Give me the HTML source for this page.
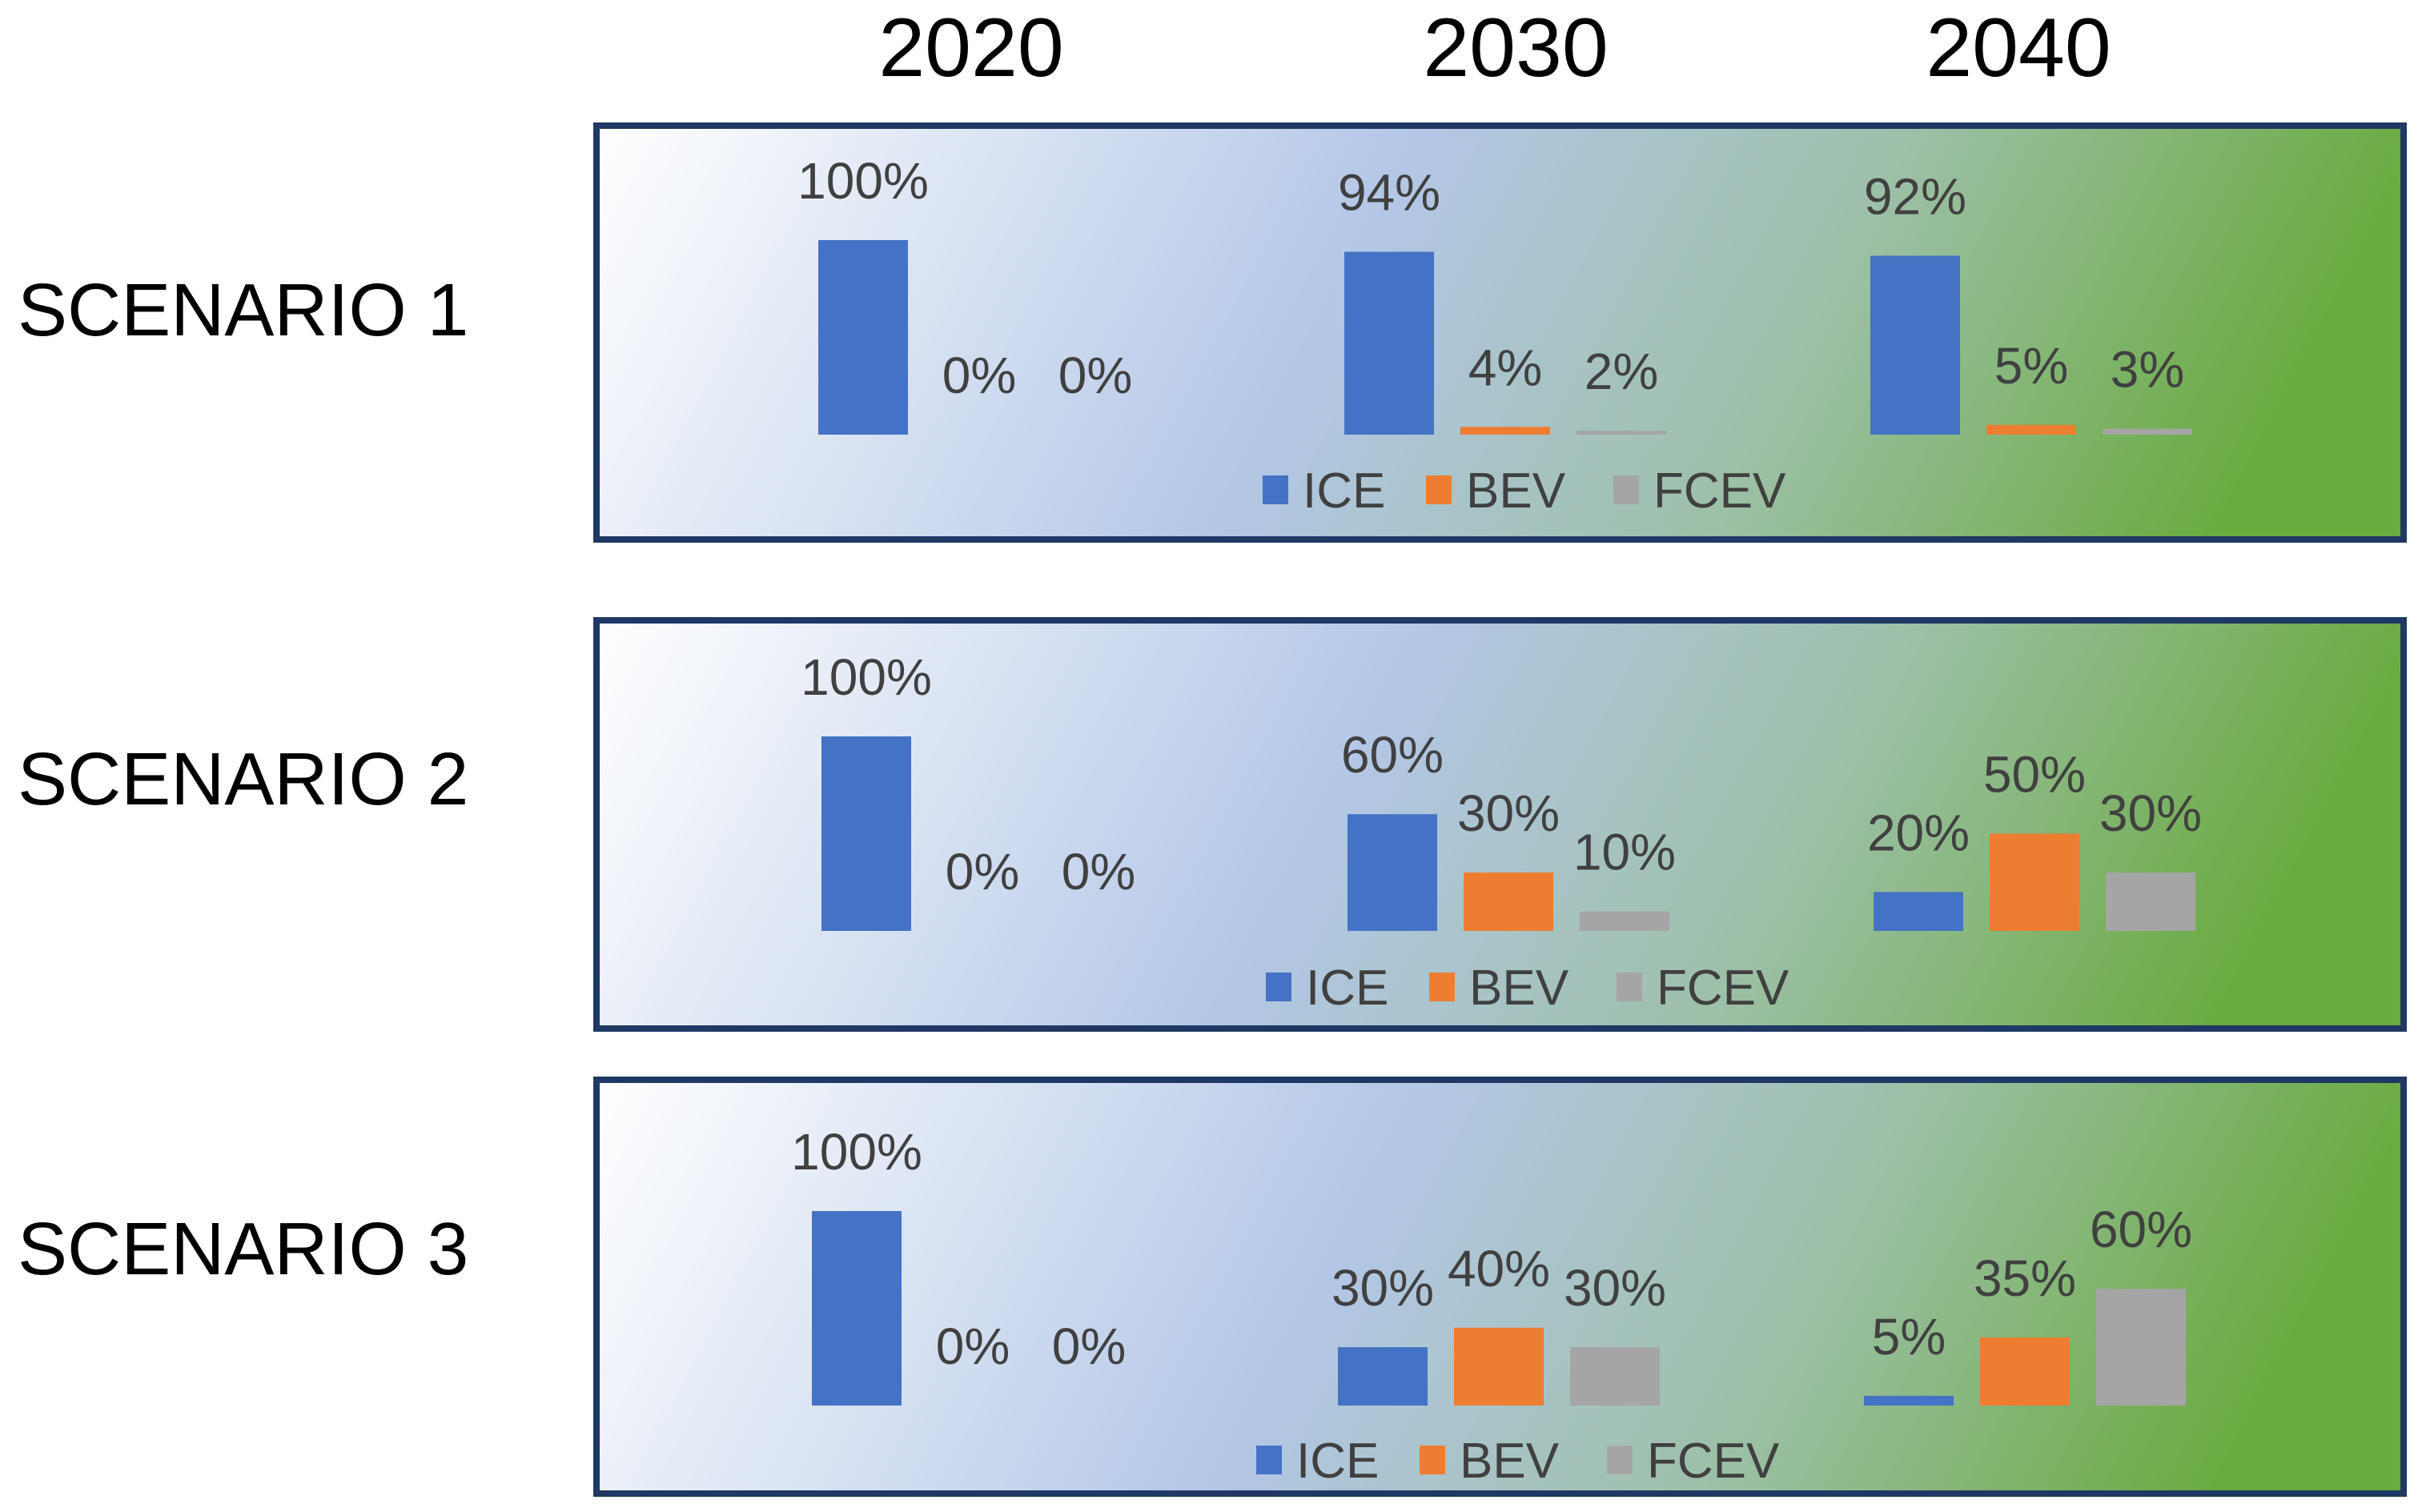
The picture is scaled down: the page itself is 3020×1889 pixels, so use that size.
<!DOCTYPE html>
<html><head><meta charset="utf-8">
<style>
html,body{margin:0;padding:0;background:#fff;}
svg{display:block;font-family:"Liberation Sans",sans-serif;}
</style></head>
<body>
<svg id="chart" width="3020" height="1889" viewBox="0 0 3020 1889">
<defs>
<linearGradient id="bg" x1="0" y1="0" x2="1" y2="0.12">
<stop offset="0" stop-color="#ffffff"/>
<stop offset="0.45" stop-color="#b4c7e7"/>
<stop offset="0.72" stop-color="#9dc0a8"/>
<stop offset="1" stop-color="#6aab40"/>
</linearGradient>
</defs>
</svg>
<script>
const years = ["2020","2030","2040"];
const series = ["ICE","BEV","FCEV"];
const scenarios = ["SCENARIO 1","SCENARIO 2","SCENARIO 3"];
const s1ICE = [100,94,92], s1BEV = [0,4,5], s1FCEV = [0,2,3];
const s2ICE = [100,60,20], s2BEV = [0,30,50], s2FCEV = [0,10,30];
const s3ICE = [100,30,5], s3BEV = [0,40,35], s3FCEV = [0,30,60];
const data = [[s1ICE,s1BEV,s1FCEV],[s2ICE,s2BEV,s2FCEV],[s3ICE,s3BEV,s3FCEV]];
const colors = ["#4472c4","#ed7d31","#a5a5a5"];

const svg = document.getElementById('chart');
const NS = "http://www.w3.org/2000/svg";
function mk(tag, attrs){const e=document.createElementNS(NS,tag);for(const k in attrs)e.setAttribute(k,attrs[k]);svg.appendChild(e);return e;}

const panels = [{y:157,h:517,base:543,dx:0,leg:612,ly:392},{y:775,h:510,base:1163,dx:4,leg:1233,ly:978},{y:1349,h:517,base:1756,dx:-8,leg:1824,ly:1565}];
const hScale = v => v/100*243;
const groupX = i => 1078 + i*657;
const barW = 112, step = 145;
const yearX = [1213,1893,2521];

years.forEach((y,i)=>{
  const t = mk('text',{x:yearX[i],y:95,'font-size':104,'text-anchor':'middle',fill:'#000'});
  
  
  t.textContent=y;
});

panels.forEach((p,si)=>{
  const r = mk('rect',{x:745,y:p.y,width:2257,height:p.h,fill:'url(#bg)',stroke:'#1f3864','stroke-width':8});
  
  
  const lab = mk('text',{x:22,y:p.ly+27,'font-size':93,fill:'#000'});
  
  
  lab.textContent = scenarios[si];
  years.forEach((yr,gi)=>{
    series.forEach((sn,k)=>{
      const v = data[si][k][gi];
      const cx = groupX(gi)+k*step+p.dx;
      const h = hScale(v);
      if(v>0){
        const b = mk('rect',{x:cx-barW/2,y:p.base-h,width:barW,height:h,fill:colors[k]});
        
        
      }
      const t = mk('text',{x:cx,y:p.base-h-52,'font-size':64,'text-anchor':'middle',fill:'#404040'});
      
      
      t.textContent = v+'%';
    });
  });
  const legX = [1577,1781,2015];
  series.forEach((sn,k)=>{
    const sq = mk('rect',{x:legX[k]+p.dx,y:p.leg-18,width:32,height:36,fill:colors[k]});
    
    
    const t = mk('text',{x:legX[k]+p.dx+50,y:p.leg+22,'font-size':62,fill:'#404040'});
    
    
    t.textContent = sn;
  });
});
</script>
</body></html>
